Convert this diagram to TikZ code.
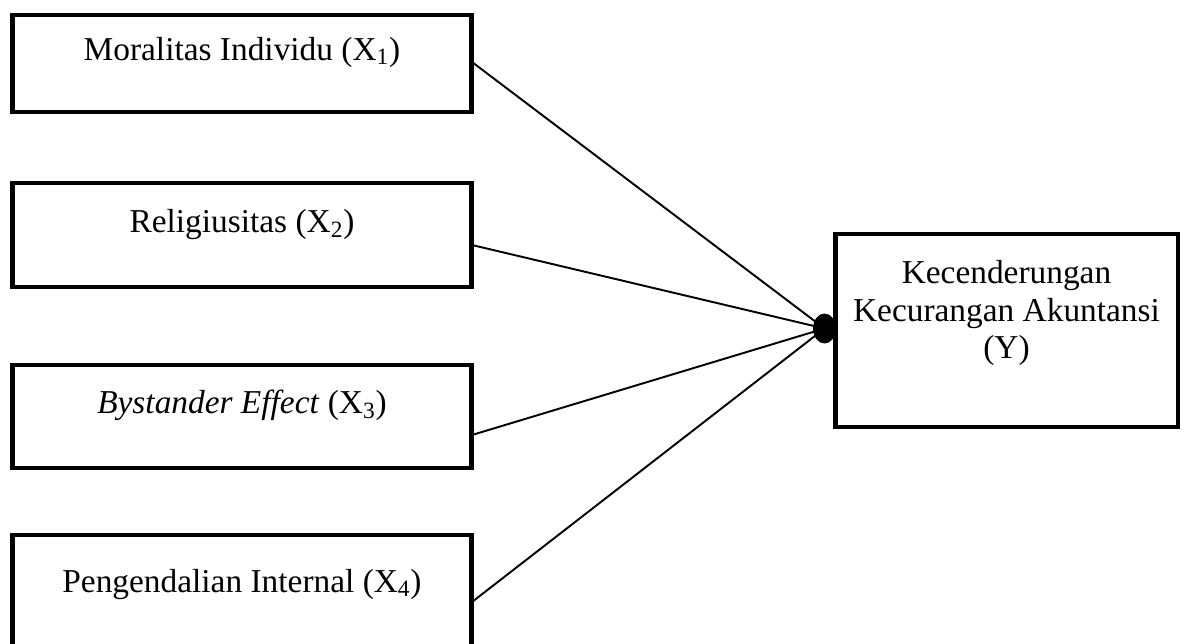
\documentclass[tikz,border=0pt]{standalone}
\usepackage{fontspec}
\setmainfont{Liberation Serif}
\usetikzlibrary{shapes.geometric,positioning}
\tikzset{
  varbox/.style = {draw, line width=2.8pt, minimum width=9.2cm,
                   inner sep=0pt, outer sep=0pt},
  ybox/.style = {draw, line width=2.8pt, minimum width=6.86cm,
                 minimum height=3.86cm, inner sep=0pt, outer sep=0pt},
  joindot/.style = {ellipse, fill, minimum width=0.46cm,
                    minimum height=0.6cm, inner sep=0pt},
  link/.style = {line width=1.1pt}
}

\begin{document}
\begin{tikzpicture}[x=0.02cm, y=-0.02cm, font=\fontsize{19}{21.6}\selectfont]
	\useasboundingbox (0,0) rectangle (1187,643);

	% Variables X
	\node[varbox, text height=0.9cm, text depth=1.04cm] (x1) at (242,63.5) {Moralitas Individu (X\textsubscript{1})};
	\node[varbox, text height=0.98cm, text depth=1.1cm] (x2) at (242,235) {Religiusitas (X\textsubscript{2})};
	\node[varbox, text height=0.96cm, text depth=1.1cm] (x3) at (242,416.5) {\textit{Bystander Effect} (X\textsubscript{3})};
	\node[varbox, text height=1.14cm, text depth=1.12cm] (x4) at (242,591.5) {Pengendalian Internal (X\textsubscript{4})};

	% Variable Y
	\node[ybox] (y) at (1006.5,330.5) {};
	\node[align=center] (ytext) at (1006.5,313) {Kecenderungan\\Kecurangan Akuntansi\\(Y)};

	% Lines
	\node[joindot] (join) at ([xshift=-0.21cm, yshift=0.04cm]y.west) {};
	\draw[link] ([yshift=0.03cm]x1.east) -- (join.center);
	\draw[link] ([yshift=-0.2cm]x2.east) -- (join.center);
	\draw[link] ([yshift=-0.37cm]x3.east) -- (join.center);
	\draw[link] ([yshift=-0.21cm]x4.east) -- (join.center);
\end{tikzpicture}
\end{document}
